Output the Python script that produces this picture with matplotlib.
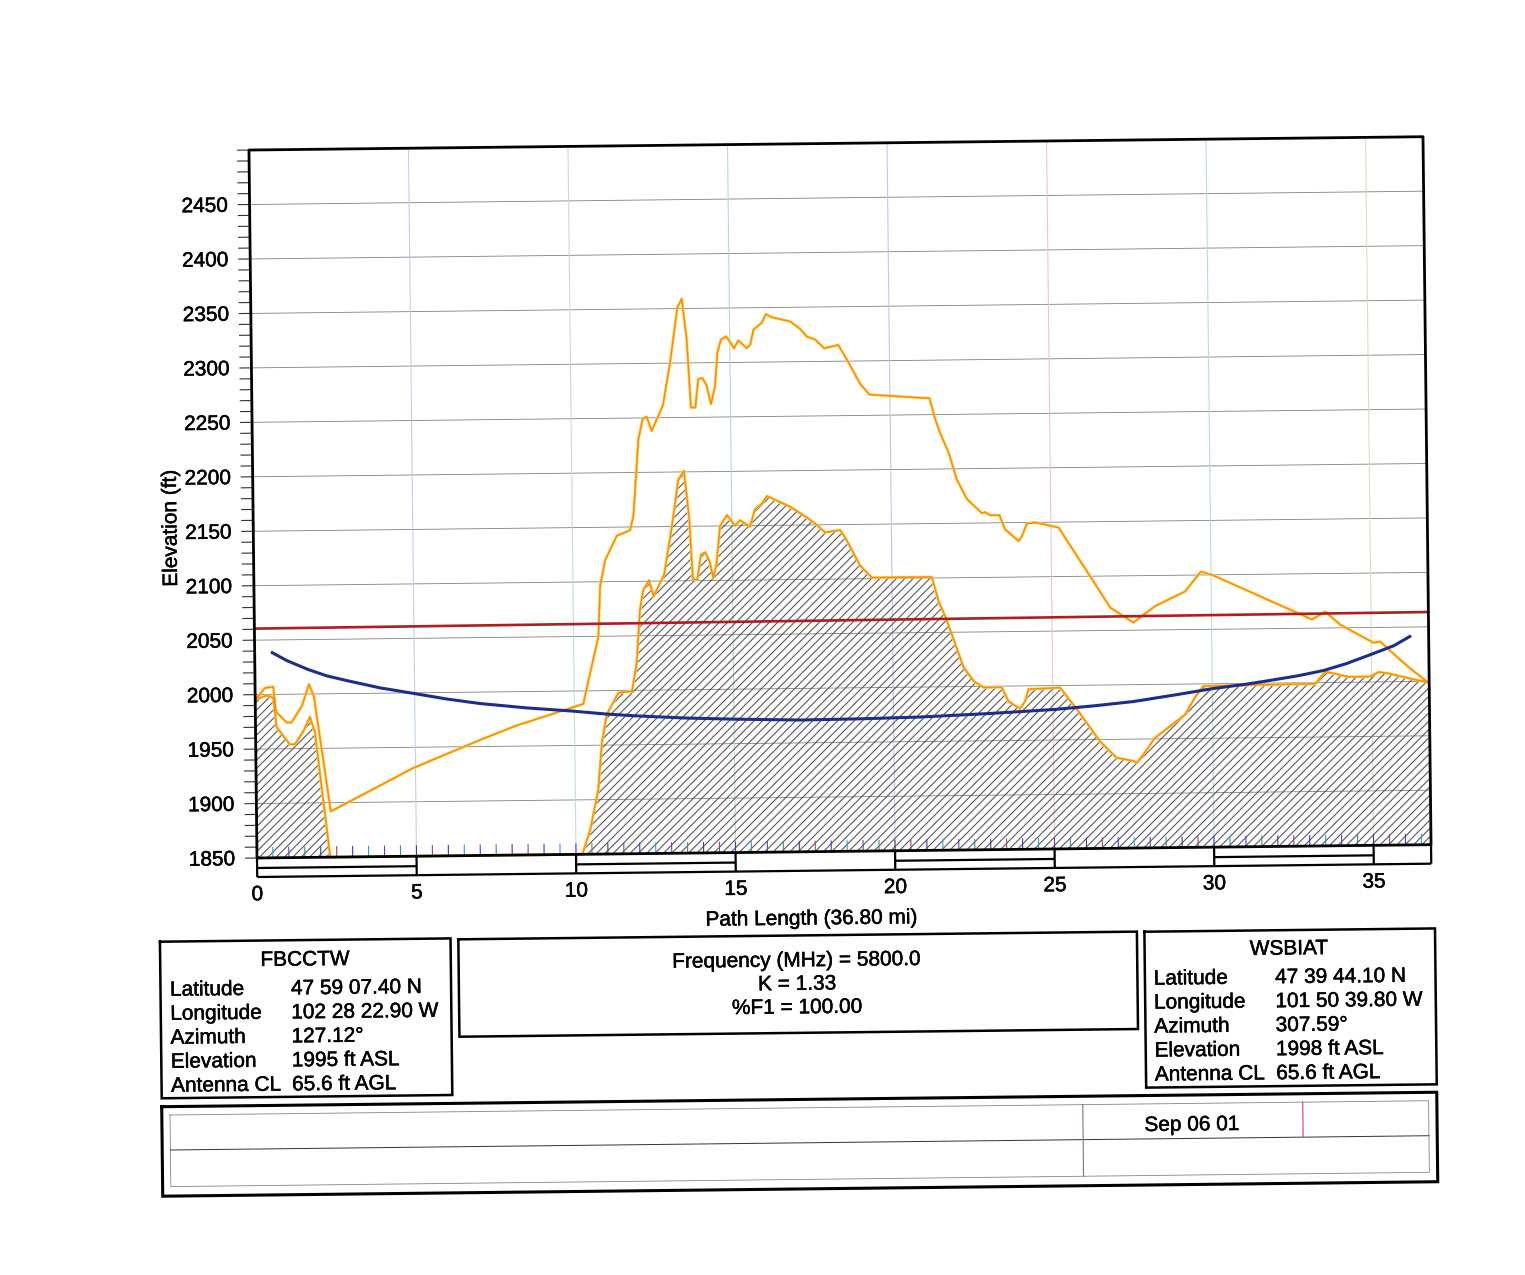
#!/usr/bin/python3
import matplotlib
matplotlib.use("Agg")
import matplotlib.pyplot as plt
import matplotlib.patheffects as pe
from matplotlib.transforms import Affine2D

plt.rcParams['font.family'] = ['Liberation Sans', 'DejaVu Sans']
plt.rcParams['hatch.linewidth'] = 0.8

# terrain profile (mi, ft)
terrain_mi = [0.00, 0.05, 0.36, 0.57, 0.66, 1.07, 1.23, 1.50, 1.71, 1.86, 2.29, 2.33, 10.20,
              10.45, 10.72, 10.85, 11.01, 11.39, 11.81, 11.97, 12.09, 12.20, 12.39, 12.52, 12.86,
              13.12, 13.34, 13.52, 13.67, 13.76, 13.90, 14.02, 14.15, 14.29, 14.40, 14.51, 14.63,
              14.85, 15.10, 15.26, 15.57, 15.73, 15.95, 16.11, 16.83, 17.35, 17.66, 17.92, 18.39,
              18.55, 19.01, 19.37, 21.25, 21.45, 21.68, 22.21, 22.52, 22.83, 23.40, 23.61, 23.97,
              24.13, 24.24, 25.23, 25.75, 26.47, 26.98, 27.50, 27.60, 27.82, 28.19, 29.14, 29.46,
              29.72, 33.23, 33.55, 34.27, 34.95, 35.22, 35.48, 35.89, 36.31, 36.76, 36.80]
terrain_ft = [1995, 1996, 1999, 1997, 1970, 1954, 1954, 1966, 1979, 1965, 1852, 1850, 1850,
              1872, 1909, 1952, 1978, 1998, 1999, 2025, 2074, 2092, 2101, 2086, 2106,
              2150, 2193, 2201, 2156, 2101, 2101, 2124, 2126, 2118, 2102, 2116, 2150,
              2160, 2150, 2155, 2149, 2165, 2170, 2177, 2167, 2157, 2150, 2143, 2145,
              2138, 2112, 2101, 2101, 2079, 2063, 2018, 2005, 1999, 1999, 1986, 1979,
              1986, 1997, 1998, 1978, 1948, 1933, 1930, 1928, 1936, 1951, 1972, 1988,
              1998, 1999, 2010, 2005, 2005, 2009, 2008, 2005, 2002, 1999, 1998]

# upper orange curve
upper_mi = [0.00, 0.05, 0.31, 0.57, 0.65, 0.98, 1.13, 1.46, 1.69, 1.84, 2.33, 4.93, 7.03, 8.19, 10.28,
            10.78, 10.85, 11.02, 11.39, 11.81, 11.92, 12.10, 12.24, 12.37, 12.52, 12.88, 13.12,
            13.37, 13.51, 13.65, 13.76, 13.90, 14.00, 14.13, 14.26, 14.39, 14.52, 14.61, 14.72,
            14.89, 15.13, 15.27, 15.53, 15.64, 15.75, 16.01, 16.14, 16.33, 16.90, 17.21, 17.42,
            17.68, 17.96, 18.40, 18.71, 19.07, 19.36, 21.24, 21.41, 21.56, 21.82, 22.07, 22.38,
            22.84, 22.94, 23.10, 23.39, 23.56, 23.98, 24.08, 24.25, 24.51, 25.24, 26.21, 26.83,
            27.55, 27.87, 28.24, 29.18, 29.68, 30.03, 33.15, 33.57, 34.03, 35.07, 35.28, 35.90,
            36.21, 36.76, 36.80]
upper_ft = [1995, 1997, 2006, 2007, 1984, 1974, 1974, 1989, 2009, 1998, 1892, 1931, 1956, 1969, 1988,
            2050, 2096, 2120, 2142, 2147, 2160, 2230, 2249, 2251, 2238, 2261, 2300,
            2351, 2359, 2322, 2259, 2259, 2285, 2286, 2279, 2262, 2278, 2309, 2321,
            2324, 2313, 2320, 2313, 2316, 2330, 2336, 2344, 2341, 2337, 2330, 2323,
            2320, 2312, 2315, 2299, 2279, 2269, 2265, 2246, 2233, 2215, 2190, 2172,
            2159, 2160, 2157, 2157, 2144, 2133, 2137, 2149, 2150, 2145, 2100, 2071,
            2057, 2064, 2072, 2085, 2103, 2100, 2058, 2065, 2053, 2036, 2037, 2020,
            2012, 1999, 1998]

# line of sight and fresnel curve
los_mi = [0.0, 36.8]
los_ft = [2060.6, 2063.6]
fresnel_mi = [0.51, 1.00, 1.67, 2.25, 2.87, 3.90, 4.96, 6.00, 7.04, 8.50, 9.97, 11.00, 11.95, 13.50,
              15.00, 17.07, 19.00, 20.83, 23.00, 25.02, 26.30, 27.52, 28.80, 30.00, 31.00, 31.82,
              32.70, 33.49, 34.20, 34.96, 35.70, 36.25]
fresnel_ft = [2039, 2031, 2022.5, 2016.5, 2012, 2005, 1999.5, 1994, 1989.5, 1985, 1981.5, 1978.5, 1976.5, 1974,
              1972.5, 1971, 1971.5, 1972.5, 1975, 1978, 1981, 1984.5, 1990, 1995.5, 1999, 2002.5,
              2006.5, 2011, 2017, 2025, 2033, 2042]

x_ticks = [0, 5, 10, 15, 20, 25, 30, 35]
y_ticks = [1850, 1900, 1950, 2000, 2050, 2100, 2150, 2200, 2250, 2300, 2350, 2400, 2450]
x_grid_colors = ['#c0d0ec', '#c4e0c8', '#b8d8d0', '#c8c4ec', '#ecc4d4', '#bcdcdc', '#d0e4c0']
x_minor_colors = ['#3c3ccc', '#20a8c0', '#7038c0', '#389868', '#404080', '#a04080']

site_rows = ['Latitude', 'Longitude', 'Azimuth', 'Elevation', 'Antenna CL']
west_values = ['47 59 07.40 N', '102 28 22.90 W', '127.12°', '1995 ft ASL', '65.6 ft AGL']
east_values = ['47 39 44.10 N', '101 50 39.80 W', '307.59°', '1998 ft ASL', '65.6 ft AGL']
center_lines = ['Frequency (MHz) = 5800.0', 'K = 1.33', '%F1 = 100.00']

W, H = 1525, 1275
ANGLE = 0.65       # the page sits a little crooked on the scanner
X0, Y0 = 257, 858
PLOT_W, PLOT_H = 1174.1, 708
FS = 15
INK = [pe.withStroke(linewidth=0.35, foreground='black')]

fig = plt.figure(figsize=(W / 100, H / 100), dpi=100)
ax = fig.add_axes([X0 / W, (H - Y0) / H, PLOT_W / W, PLOT_H / H])
ax.set_xlim(0, 36.8)
ax.set_ylim(1850, 2500)
ax.axis('off')
page = fig.add_axes([0, 0, 1, 1], zorder=-1)
page.set_xlim(0, W)
page.set_ylim(H, 0)
page.axis('off')

rot = Affine2D().rotate_deg_around(X0, H - Y0, ANGLE)
tr = ax.transData + rot
tr_page = page.transData + rot

px_x = 36.8 / PLOT_W
px_y = 650.0 / PLOT_H


def line(x, y, **kw):
    ax.plot(x, y, transform=tr, clip_on=False, solid_capstyle='butt', **kw)


def box(x0, y0, x1, y1, lw=1.8, color='black'):
    page.plot([x0, x1, x1, x0, x0], [y0, y0, y1, y1, y0], transform=tr_page, clip_on=False,
              color=color, lw=lw, solid_joinstyle='miter')


def label(x, y, s, ha='left', **kw):
    page.text(x, y, s, transform=tr_page, ha=ha, va='center', fontsize=FS, color='black',
              rotation=ANGLE, rotation_mode='anchor', path_effects=INK, **kw)


# grid
for v in range(1900, 2500, 50):
    line([0, 36.8], [v, v], color='#808080', lw=0.6, zorder=1)
for x, c in zip(x_ticks[1:], x_grid_colors):
    line([x, x], [1850, 2500], color=c, lw=0.8, zorder=1)

# hatched terrain
ax.fill_between(terrain_mi, terrain_ft, 1850, transform=tr, facecolor='none', edgecolor='#58585f',
                hatch='////', linewidth=0, clip_on=False, zorder=2)

# curves
for xs, ys in ((upper_mi, upper_ft), (terrain_mi, terrain_ft)):
    line(xs, ys, color='#ffd840', lw=2.0, zorder=3)
    line(xs, ys, color='#ff8a10', lw=1.1, zorder=4)
line(los_mi, los_ft, color='#b01c20', lw=1.9, zorder=5)
line(fresnel_mi, fresnel_ft, color='#1c2e8c', lw=2.2, zorder=6)

# left ticks
for v in range(1850, 2501, 10):
    line([-12 * px_x, 0], [v, v], color='#333333', lw=0.8, zorder=7)
# small ticks along the bottom
for i in range(1, 74):
    x = i * 0.5
    c = x_minor_colors[i % len(x_minor_colors)]
    line([x, x], [1850, 1850 + 11 * px_y], color=c, lw=0.8, zorder=7)

# frame
line([0, 36.8, 36.8, 0, 0], [1850, 1850, 2500, 2500, 1850], color='black', lw=2.0, zorder=9)

# scale bar under the axis
bar = 1850 - 19 * px_y
mid = 1850 - 10 * px_y
line([0, 36.8], [bar, bar], color='black', lw=1.6, zorder=9)
line([0, 0], [1850, bar], color='black', lw=1.6, zorder=9)
line([36.8, 36.8], [1850, bar], color='black', lw=1.6, zorder=9)
for x in x_ticks[1:]:
    line([x, x], [1850, bar], color='black', lw=1.6, zorder=9)
for x in x_ticks[::2]:
    line([x, x + 5], [mid, mid], color='black', lw=1.6, zorder=9)

# tick labels
for x in x_ticks:
    ax.text(x, 1850 - 36.8 * px_y, str(x), transform=tr, ha='center', va='center', fontsize=FS,
            rotation=ANGLE, rotation_mode='anchor', path_effects=INK)
for v in y_ticks:
    ax.text(-21.6 * px_x, v - 1.5 * px_y, str(v), transform=tr, ha='right', va='center', fontsize=FS,
            rotation=ANGLE, rotation_mode='anchor', path_effects=INK)

label(811.3, 925.3, 'Path Length (36.80 mi)', ha='center')
page.text(174.7, 527, 'Elevation (ft)', transform=tr_page, ha='center', va='center', fontsize=FS,
          rotation=90 + ANGLE, rotation_mode='anchor', path_effects=INK)

# site panels
box(159, 940.6, 449.6, 1097.2)
box(457.4, 941.6, 1136, 1039)
box(1143.5, 941.8, 1434.1, 1097.7)
label(303.9, 960.5, 'FBCCTW', ha='center')
label(1288, 960.7, 'WSBIAT', ha='center')
for i, name in enumerate(site_rows):
    y = 989.3 + 24 * i
    label(168.5, y, name)
    label(289.5, y, west_values[i])
    label(1152.3, y, name)
    label(1273.7, y, east_values[i])
for i, s in enumerate(center_lines):
    label(795.7, 967 + 23.5 * i, s, ha='center')

# title block
box(158.9, 1105.6, 1434, 1195.1, lw=2.2)
box(167.1, 1114, 1425.7, 1185.6, lw=0.6, color='#8a8090')
page.plot([167.1, 1425.7], [1149, 1149], transform=tr_page, color='#333333', lw=0.7, clip_on=False)
page.plot([1079.9, 1079.9], [1114, 1185.6], transform=tr_page, color='#807090', lw=0.8, clip_on=False)
page.plot([1299.9, 1299.9], [1114, 1149], transform=tr_page, color='#d04070', lw=0.8, clip_on=False)
label(1189, 1135.6, 'Sep 06 01', ha='center')

fig.savefig('out.png', dpi=100)
